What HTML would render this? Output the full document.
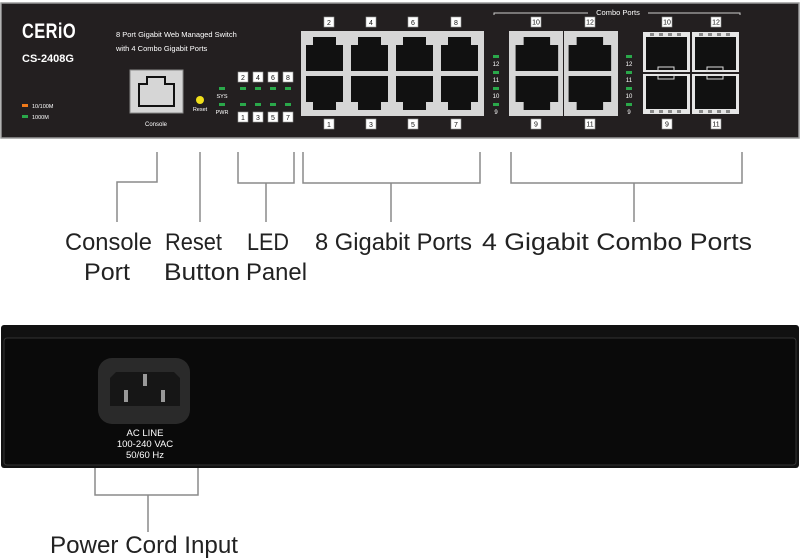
<!DOCTYPE html>
<html><head><meta charset="utf-8"><style>
html,body{margin:0;padding:0;background:#fff;width:800px;height:558px;overflow:hidden}
svg{display:block}
.w{font-family:"Liberation Sans",sans-serif;fill:#fff}
.lb{font-family:"Liberation Sans",sans-serif;fill:#222;font-size:24px}
.nb{font-family:"Liberation Sans",sans-serif;font-size:7px;fill:#111;text-anchor:middle}
</style></head><body>
<svg width="800" height="558" viewBox="0 0 800 558" xmlns="http://www.w3.org/2000/svg">
<defs>
<g id="pu"><rect x="0" y="0" width="45" height="41" fill="#d6d6d6"/><path d="M4 13 H11 V5 H34 V13 H41 V39 H4 Z" fill="#111"/></g>
<g id="pd"><rect x="0" y="0" width="45" height="41" fill="#d6d6d6"/><path d="M4 2 H41 V28 H34 V36 H11 V28 H4 Z" fill="#111"/></g>
<g id="nbx"><rect x="-5" y="-5" width="10" height="10" fill="#fff" stroke="#999" stroke-width="0.6"/></g>
<g id="sfp"><rect x="0" y="0" width="47" height="40" fill="#e6e6e6"/><rect x="3" y="5" width="41" height="33" fill="#111"/><rect x="7" y="1" width="4" height="3" fill="#888"/><rect x="16" y="1" width="4" height="3" fill="#888"/><rect x="25" y="1" width="4" height="3" fill="#888"/><rect x="34" y="1" width="4" height="3" fill="#888"/></g>
</defs>
<rect x="1" y="3" width="798" height="135" fill="#231f20" stroke="#9a9a9a" stroke-width="1.5"/>
<text x="22" y="38" class="w" font-size="21" font-weight="bold" letter-spacing="0.5" textLength="54" lengthAdjust="spacingAndGlyphs">CERiO</text>
<text x="22" y="62" class="w" font-size="11" font-weight="bold">CS-2408G</text>
<text x="116" y="37" class="w" font-size="7.5">8 Port Gigabit Web Managed Switch</text>
<text x="116" y="51" class="w" font-size="7.5">with 4 Combo Gigabit Ports</text>
<rect x="22" y="104" width="6" height="3" fill="#f07a1a"/><text x="32" y="108" class="w" font-size="5.5">10/100M</text>
<rect x="22" y="115" width="6" height="3" fill="#2aa84a"/><text x="32" y="119" class="w" font-size="5.5">1000M</text>
<rect x="130" y="70" width="53" height="43" fill="#d6d6d6" stroke="#888" stroke-width="1"/>
<path d="M138 83 H146 V76 H166 V83 H175 V107 H138 Z" fill="#111"/><path d="M140 85 H148 V78 H164 V85 H173 V105 H140 Z" fill="#d6d6d6"/>
<text x="156" y="126" class="w" font-size="6" text-anchor="middle">Console</text>
<circle cx="200" cy="100" r="4" fill="#f1e01a"/>
<text x="200" y="111" class="w" font-size="5.5" text-anchor="middle">Reset</text>
<rect x="219" y="87" width="6" height="3" fill="#2aa84a"/><text x="222" y="98" class="w" font-size="5.5" text-anchor="middle">SYS</text>
<rect x="219" y="103" width="6" height="3" fill="#2aa84a"/><text x="222" y="114" class="w" font-size="5.5" text-anchor="middle">PWR</text>
<g fill="#2aa84a"><rect x="240" y="87" width="6" height="3"/><rect x="255" y="87" width="6" height="3"/><rect x="270" y="87" width="6" height="3"/><rect x="285" y="87" width="6" height="3"/>
<rect x="240" y="103" width="6" height="3"/><rect x="255" y="103" width="6" height="3"/><rect x="270" y="103" width="6" height="3"/><rect x="285" y="103" width="6" height="3"/></g>
<use href="#nbx" x="243" y="77"/><use href="#nbx" x="258" y="77"/><use href="#nbx" x="273" y="77"/><use href="#nbx" x="288" y="77"/>
<use href="#nbx" x="243" y="117"/><use href="#nbx" x="258" y="117"/><use href="#nbx" x="273" y="117"/><use href="#nbx" x="288" y="117"/>
<text x="243" y="80" class="nb">2</text><text x="258" y="80" class="nb">4</text><text x="273" y="80" class="nb">6</text><text x="288" y="80" class="nb">8</text>
<text x="243" y="120" class="nb">1</text><text x="258" y="120" class="nb">3</text><text x="273" y="120" class="nb">5</text><text x="288" y="120" class="nb">7</text>
<rect x="301" y="31" width="183" height="85" fill="#d6d6d6"/>
<use href="#pu" x="302" y="32"/><use href="#pu" x="347" y="32"/><use href="#pu" x="392" y="32"/><use href="#pu" x="437" y="32"/>
<use href="#pd" x="302" y="74"/><use href="#pd" x="347" y="74"/><use href="#pd" x="392" y="74"/><use href="#pd" x="437" y="74"/>
<use href="#nbx" x="329" y="22"/><use href="#nbx" x="371" y="22"/><use href="#nbx" x="413" y="22"/><use href="#nbx" x="456" y="22"/>
<use href="#nbx" x="329" y="124"/><use href="#nbx" x="371" y="124"/><use href="#nbx" x="413" y="124"/><use href="#nbx" x="456" y="124"/>
<text x="329" y="25" class="nb">2</text><text x="371" y="25" class="nb">4</text><text x="413" y="25" class="nb">6</text><text x="456" y="25" class="nb">8</text>
<text x="329" y="127" class="nb">1</text><text x="371" y="127" class="nb">3</text><text x="413" y="127" class="nb">5</text><text x="456" y="127" class="nb">7</text>
<g fill="#2aa84a"><rect x="493" y="55" width="6" height="3"/><rect x="493" y="71" width="6" height="3"/><rect x="493" y="87" width="6" height="3"/><rect x="493" y="103" width="6" height="3"/>
<rect x="626" y="55" width="6" height="3"/><rect x="626" y="71" width="6" height="3"/><rect x="626" y="87" width="6" height="3"/><rect x="626" y="103" width="6" height="3"/></g>
<g class="w" font-size="6" text-anchor="middle"><text x="496" y="66">12</text><text x="496" y="82">11</text><text x="496" y="98">10</text><text x="496" y="114">9</text>
<text x="629" y="66">12</text><text x="629" y="82">11</text><text x="629" y="98">10</text><text x="629" y="114">9</text></g>
<rect x="509" y="31" width="109" height="85" fill="#d6d6d6"/>
<line x1="563.5" y1="31" x2="563.5" y2="116" stroke="#231f20" stroke-width="1"/>
<g transform="translate(511,32) scale(1.15,1)"><use href="#pu"/></g><g transform="translate(564,32) scale(1.15,1)"><use href="#pu"/></g>
<g transform="translate(511,74) scale(1.15,1)"><use href="#pd"/></g><g transform="translate(564,74) scale(1.15,1)"><use href="#pd"/></g>
<use href="#sfp" x="643" y="32"/><use href="#sfp" x="692" y="32"/>
<g transform="translate(643,114) scale(1,-1)"><use href="#sfp"/></g><g transform="translate(692,114) scale(1,-1)"><use href="#sfp"/></g>
<rect x="658" y="67" width="16" height="4" fill="none" stroke="#ddd" stroke-width="1"/><rect x="707" y="67" width="16" height="4" fill="none" stroke="#ddd" stroke-width="1"/>
<rect x="658" y="75" width="16" height="4" fill="none" stroke="#ddd" stroke-width="1"/><rect x="707" y="75" width="16" height="4" fill="none" stroke="#ddd" stroke-width="1"/>
<path d="M494 15 V13 H588 M648 13 H740 V15" stroke="#ccc" stroke-width="1" fill="none"/>
<text x="618" y="15" class="w" font-size="7.5" text-anchor="middle">Combo Ports</text>
<use href="#nbx" x="536" y="22"/><use href="#nbx" x="590" y="22"/><use href="#nbx" x="667" y="22"/><use href="#nbx" x="716" y="22"/>
<use href="#nbx" x="536" y="124"/><use href="#nbx" x="590" y="124"/><use href="#nbx" x="667" y="124"/><use href="#nbx" x="716" y="124"/>
<g class="nb" font-size="6"><text x="536" y="24.5">10</text><text x="590" y="24.5">12</text><text x="667" y="24.5">10</text><text x="716" y="24.5">12</text>
<text x="536" y="126.5">9</text><text x="590" y="126.5">11</text><text x="667" y="126.5">9</text><text x="716" y="126.5">11</text></g>
<g stroke="#8a8a8a" stroke-width="1.5" fill="none">
<path d="M157 152 V182 H117 V222"/>
<path d="M200 152 V222"/>
<path d="M238 152 V183 H294 V152 M266 183 V222"/>
<path d="M303 152 V183 H480 V152 M391 183 V222"/>
<path d="M511 152 V183 H742 V152 M634 183 V222"/>
<path d="M95 468 V495 H198 V468 M148 495 V532"/>
</g>
<text x="65" y="250" class="lb" textLength="87" lengthAdjust="spacingAndGlyphs">Console</text>
<text x="84" y="280" class="lb" textLength="46" lengthAdjust="spacingAndGlyphs">Port</text>
<text x="165" y="250" class="lb" textLength="57" lengthAdjust="spacingAndGlyphs">Reset</text>
<text x="164" y="280" class="lb" textLength="76" lengthAdjust="spacingAndGlyphs">Button</text>
<text x="247" y="250" class="lb" textLength="42" lengthAdjust="spacingAndGlyphs">LED</text>
<text x="246" y="280" class="lb" textLength="61" lengthAdjust="spacingAndGlyphs">Panel</text>
<text x="315" y="250" class="lb" textLength="157" lengthAdjust="spacingAndGlyphs">8 Gigabit Ports</text>
<text x="482" y="250" class="lb" textLength="270" lengthAdjust="spacingAndGlyphs">4 Gigabit Combo Ports</text>
<rect x="1" y="325" width="798" height="143" rx="3" fill="#111"/>
<rect x="4" y="338" width="792" height="127" rx="3" fill="#0a0a0a" stroke="#333" stroke-width="1"/>
<rect x="98" y="358" width="92" height="66" rx="14" fill="#2a2a2a"/>
<path d="M116 372 H174 L180 378 V406 H110 V378 Z" fill="#161616"/>
<rect x="143" y="374" width="4" height="12" fill="#999"/><rect x="124" y="390" width="4" height="12" fill="#999"/><rect x="161" y="390" width="4" height="12" fill="#999"/>
<g class="w" font-size="9.5" text-anchor="middle"><text x="145" y="436">AC LINE</text><text x="145" y="447">100-240 VAC</text><text x="145" y="458">50/60 Hz</text></g>
<text x="50" y="553" class="lb" textLength="188" lengthAdjust="spacingAndGlyphs">Power Cord Input</text>
</svg>
</body></html>
